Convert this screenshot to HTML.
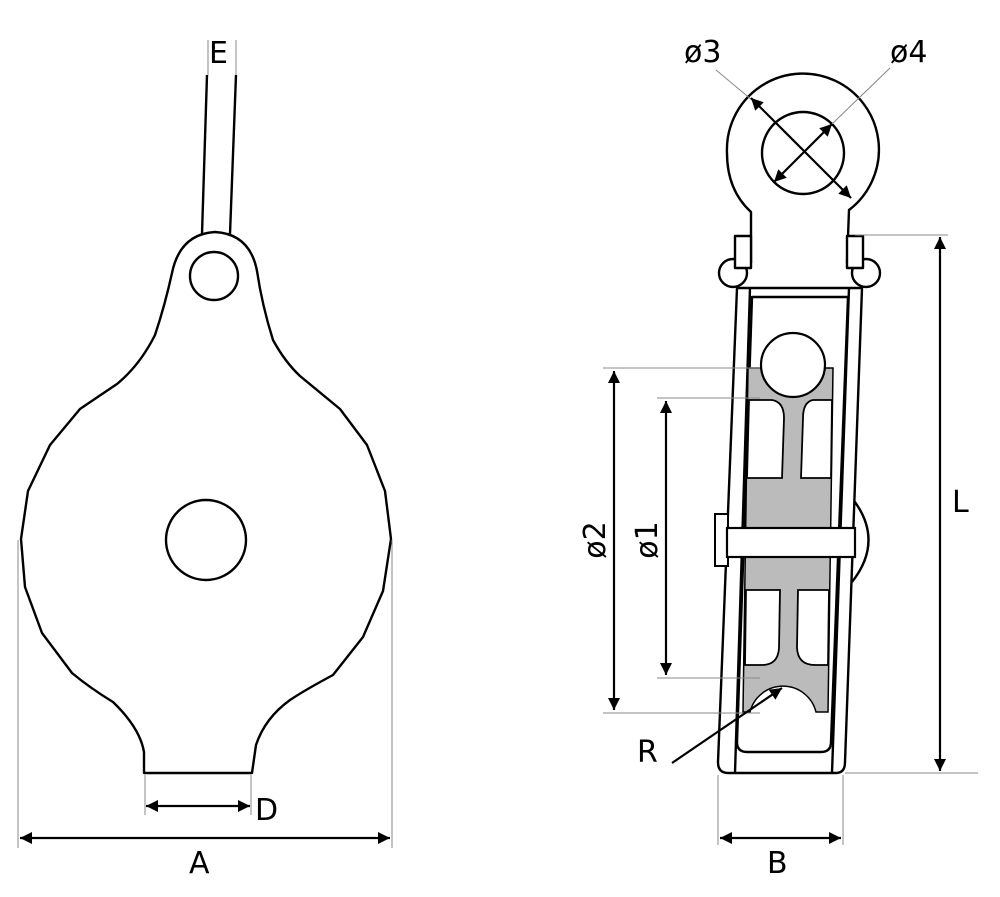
<!DOCTYPE html>
<html><head><meta charset="utf-8"><style>html,body{margin:0;padding:0;background:#fff}svg{display:block}</style></head>
<body>
<svg width="1000" height="897" viewBox="0 0 1000 897" xmlns="http://www.w3.org/2000/svg" font-family="'DejaVu Sans','Liberation Sans',sans-serif">
<defs>
<marker id="ar" viewBox="0 0 10 10" refX="10" refY="5" markerWidth="22" markerHeight="12" markerUnits="userSpaceOnUse" orient="auto-start-reverse"><path d="M0,0 L10,5 L0,10 z" fill="#000"/></marker>
</defs>
<g fill="none" stroke="#000" stroke-width="2.4" stroke-linejoin="round">
<path d="M202,234 L207,75 M236,75 L230,234"/>
<path d="M144,773 L144,752 Q140,728 113,702 Q90,688 72,673 L42,633 L25,587 L21,539 L28,491 L50,445 L80,409 Q105,392 117,384 Q140,365 155,335 Q165,305 172,273 Q180,234 215,232 Q250,234 257,271 Q262,305 273,340 Q285,362 300,376 L340,409 L367,445 L385,491 L391,539 L383,591 L363,637 L333,675 Q305,690 290,700 Q265,718 256,745 L252,773 Z" fill="#fff"/>
<circle cx="214" cy="276" r="24"/>
<circle cx="206" cy="540" r="40"/>
</g>
<g stroke="#888" stroke-width="1" fill="none">
<path d="M208,40 V75 M236,40 V75"/>
<path d="M18,540 V848 M392,540 V848"/>
<path d="M145,775 V815 M251,775 V815"/>
</g>
<g stroke="#000" stroke-width="2.2" fill="none">
<line x1="20" y1="838" x2="390" y2="838" marker-start="url(#ar)" marker-end="url(#ar)"/>
<line x1="146" y1="806" x2="250" y2="806" marker-start="url(#ar)" marker-end="url(#ar)"/>
</g>
<g font-size="30" fill="#000">
<text x="209" y="63">E</text>
<text x="189" y="873">A</text>
<text x="255" y="820">D</text>
</g>

<g fill="none" stroke="#000" stroke-width="2.4" stroke-linejoin="round">
<circle cx="733" cy="273" r="14" fill="#fff"/>
<circle cx="866" cy="273" r="14" fill="#fff"/>
<path d="M852,498 Q885,540 852,582" fill="#fff"/>
<path d="M737,288 L718,762 Q718,773 728,773 L836,773 Q845,773 845,762 L862,288 Z" fill="#fff"/>
<path d="M750,288 L735,773 M849,288 L832,773"/>
<path d="M752,297 L737,742 Q737,752 747,752 L821,752 Q831,752 831,742 L848,297 Z" fill="#fff"/>
<path d="M751,263 L751,212 Q727,190 727,153 A76,76 0 1 1 849,210 L847,263" fill="#fff"/>
<circle cx="803" cy="153" r="41"/>
<rect x="735" y="236" width="16" height="32" fill="#fff"/>
<rect x="847" y="236" width="16" height="32" fill="#fff"/>
</g>
<path d="M748,368 L833,368 L828,712 L816,712 A34,34 0 0 0 750,712 L743,712 Z" fill="#bbb" stroke="#000" stroke-width="1.5"/>
<g fill="#fff" stroke="#000" stroke-width="1.8">
<path d="M749,400 L772,400 Q784,402 784,418 L782,478 L747,478 Z"/>
<path d="M832,400 L813,400 Q803,402 803,418 L801,478 L831,478 Z"/>
<path d="M746,590 L780,590 L779,648 Q778,665 762,665 L745,665 Z"/>
<path d="M829,590 L798,590 L797,648 Q798,665 815,665 L828,665 Z"/>
</g>
<circle cx="793" cy="365" r="32" fill="#fff" stroke="#000" stroke-width="2.2"/>
<rect x="715" y="514" width="13" height="52" fill="#fff" stroke="#000" stroke-width="2"/>
<rect x="727" y="528" width="128" height="29" fill="#fff" stroke="#000" stroke-width="2.2"/>
<g stroke="#888" stroke-width="1" fill="none">
<path d="M603,368 H760 M603,713 H760 M657,398 H760 M657,678 H760"/>
<path d="M855,235 H948 M845,773 H978"/>
<path d="M718,775 V845 M843,775 V845"/>
<path d="M716,70 L752,100 M890,68 L832,124"/>
</g>
<g stroke="#000" stroke-width="2.2" fill="none">
<line x1="614" y1="371" x2="614" y2="710" marker-start="url(#ar)" marker-end="url(#ar)"/>
<line x1="666" y1="401" x2="666" y2="675" marker-start="url(#ar)" marker-end="url(#ar)"/>
<line x1="940" y1="237" x2="940" y2="771" marker-start="url(#ar)" marker-end="url(#ar)"/>
<line x1="720" y1="838" x2="841" y2="838" marker-start="url(#ar)" marker-end="url(#ar)"/>
<line x1="751" y1="98" x2="851" y2="198" marker-start="url(#ar)" marker-end="url(#ar)"/>
<line x1="774" y1="182" x2="832" y2="124" marker-start="url(#ar)" marker-end="url(#ar)"/>
<line x1="672" y1="763" x2="782" y2="688" marker-end="url(#ar)"/>
</g>
<g font-size="30" fill="#000">
<text x="684" y="62">ø3</text>
<text x="890" y="62">ø4</text>
<text x="952" y="512">L</text>
<text x="767" y="873">B</text>
<text x="637" y="762">R</text>
<text transform="translate(605,540) rotate(-90)" text-anchor="middle">ø2</text>
<text transform="translate(657,540) rotate(-90)" text-anchor="middle">ø1</text>
</g>
</svg>
</body></html>
